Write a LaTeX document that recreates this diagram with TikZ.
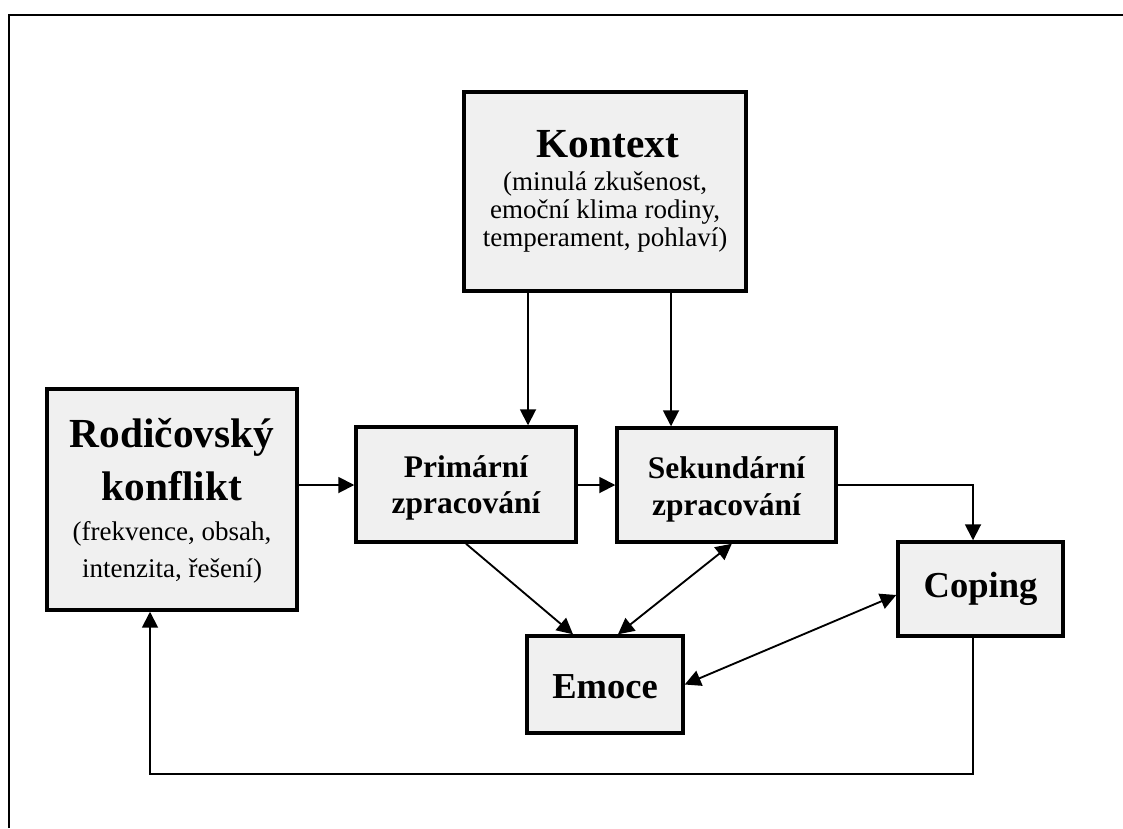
\documentclass[tikz,border=0pt]{standalone}
\usepackage{fontspec}
\setmainfont{Liberation Serif}
\usetikzlibrary{arrows.meta}
\definecolor{boxfill}{RGB}{240,240,240}
\begin{document}
\begin{tikzpicture}[x=0.75pt,y=-0.75pt,
  box/.style={draw=black, fill=boxfill, line width=2.6pt, inner sep=0pt},
  txt/.style={anchor=base, inner sep=0pt},
  big/.style={font=\fontsize{31}{31}\selectfont\bfseries},
  mid/.style={font=\fontsize{27.4}{27.4}\selectfont\bfseries},
  sml/.style={font=\fontsize{23.6}{23.6}\selectfont\bfseries},
  sub/.style={font=\fontsize{20.25}{20.25}\selectfont},
  link/.style={line width=1.4pt, -{Triangle[length=12pt,width=12pt]}},
  both/.style={line width=1.4pt, {Triangle[length=12pt,width=12pt]}-{Triangle[length=12pt,width=12pt]}}
]
\useasboundingbox (0,0) rectangle (1123,828);

% outer frame (top and left edges)
\draw[line width=1.8pt] (9,828) -- (9,15) -- (1123,15);

% boxes
\node[box, minimum width=211.5pt, minimum height=149.25pt] (kontext) at (605,191.5) {};
\node[box, minimum width=187.5pt, minimum height=165.75pt] (rodic) at (172,499.5) {};
\node[box, minimum width=165pt, minimum height=86.25pt] (prim) at (466,484.5) {};
\node[box, minimum width=164.25pt, minimum height=85.5pt] (sek) at (726.5,485) {};
\node[box, minimum width=123.75pt, minimum height=70.5pt] (coping) at (980.5,589) {};
\node[box, minimum width=117pt, minimum height=72.75pt] (emoce) at (605,684.5) {};

% texts
\node[txt,big] (kt) at (608,157) {Kontext};
\node[txt,sub] (k1) at (605,190) {(minulá zkušenost,};
\node[txt,sub] (k2) at (605,218) {emoční klima rodiny,};
\node[txt,sub] (k3) at (605,246) {temperament, pohlaví)};

\node[txt,big] (r1) at (172,447) {Rodičovský};
\node[txt,big] (r2) at (172,500) {konflikt};
\node[txt,sub] (r3) at (172,540) {(frekvence, obsah,};
\node[txt,sub] (r4) at (172,577) {intenzita, řešení)};

\node[txt,sml] (p1) at (466,477) {Primární};
\node[txt,sml] (p2) at (466,513) {zpracování};
\node[txt,sml] (s1) at (726.5,478) {Sekundární};
\node[txt,sml] (s2) at (726.5,515) {zpracování};

\node[txt,mid] (e1) at (605,698) {Emoce};
\node[txt,mid] (c1) at (980.5,597) {Coping};

% routing helpers
\coordinate (colA) at (528,0);
\coordinate (colB) at (671,0);
\coordinate (colC) at (973,0);
\coordinate (rowA) at (0,485);
\coordinate (loop) at (150,774);

% connectors
\draw[link] (kontext.south -| colA) -- (prim.north -| colA);
\draw[link] (kontext.south -| colB) -- (sek.north -| colB);
\draw[link] (rodic.east |- rowA) -- (prim.west |- rowA);
\draw[link] (prim.east |- rowA) -- (sek.west |- rowA);
\draw[link] (sek.east |- rowA) -| (coping.north -| colC);
\draw[link] (prim.south) -- ([xshift=-24pt]emoce.north);
\draw[both] ([xshift=9.75pt]emoce.north) -- ([xshift=4pt]sek.south);
\draw[both] (emoce.east) -- ([yshift=-4.5pt]coping.west);
\draw[link] (coping.south -| colC) |- (loop) -- (rodic.south -| loop);
\end{tikzpicture}
\end{document}
